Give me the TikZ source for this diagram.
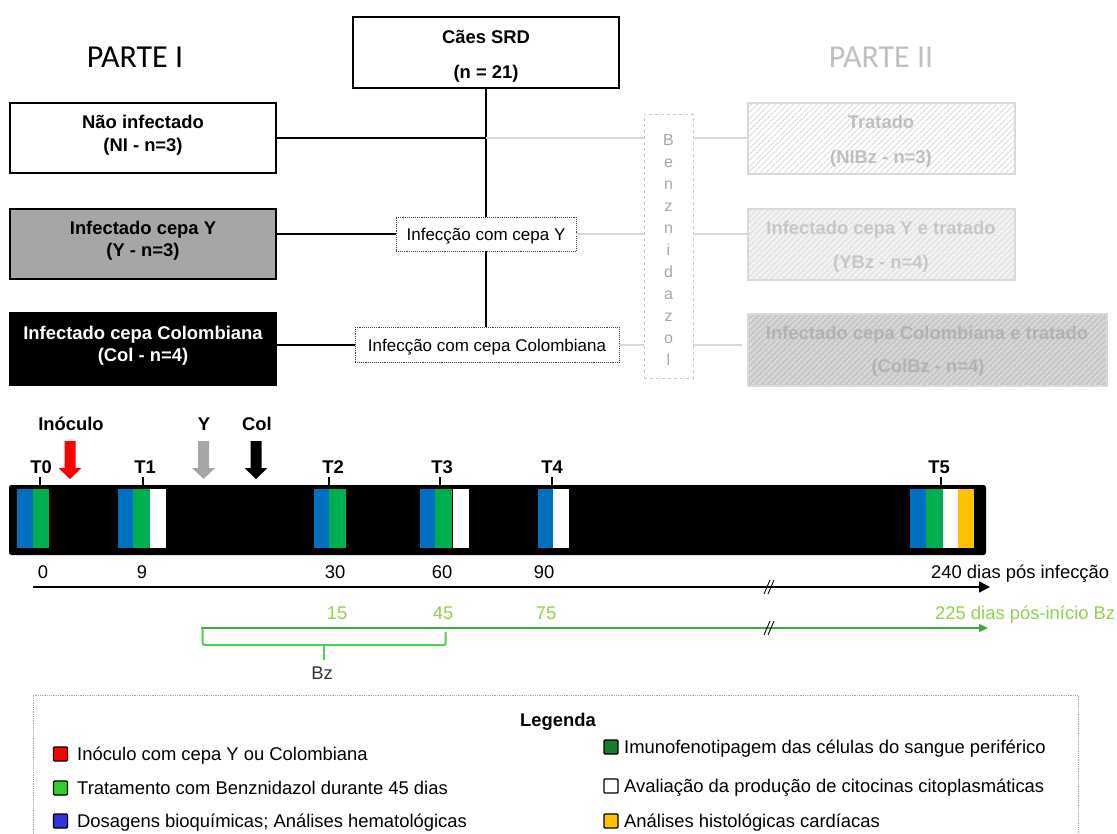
\documentclass[tikz,border=0pt]{standalone}
\usepackage{fontspec}
\setmainfont{Liberation Sans}
\newfontfamily\calib{Carlito}
\usetikzlibrary{arrows.meta,patterns.meta}
\definecolor{cblue}{HTML}{0070C0}
\definecolor{cgreen}{HTML}{00B050}
\definecolor{cyellow}{HTML}{FFC000}
\definecolor{lgray}{HTML}{D9D9D9}
\definecolor{midgray}{HTML}{A6A6A6}
\definecolor{lgreen}{HTML}{92D050}
\definecolor{bgreen}{HTML}{4FD04F}
\definecolor{axgreen}{HTML}{3DAA3D}
\definecolor{legred}{HTML}{FF0000}
\definecolor{leggreen}{HTML}{33CC33}
\definecolor{legblue}{HTML}{3333DD}
\definecolor{legdkgreen}{HTML}{1B7A2C}
\begin{document}
\begin{tikzpicture}[x=1pt,y=-1pt,
  bx/.style={draw=black, line width=2.8pt, inner sep=0pt, minimum width=266pt, minimum height=70pt},
  hbox/.style={draw=lgray, line width=2pt, inner sep=0pt, minimum height=71pt},
  dbox/.style={draw=black!75, densely dotted, line width=0.9pt, inner sep=0pt, minimum height=34pt},
  conn/.style={line width=1.4pt, black},
  gconn/.style={line width=1.5pt, lgray},
  tb/.style={font=\bfseries\fontsize{18.4}{22}\selectfont, inner sep=0pt, text height=13.2pt, text depth=0pt},
  tr/.style={font=\fontsize{18.4}{22}\selectfont, inner sep=0pt, text height=13.2pt, text depth=0pt},
  ts/.style={font=\fontsize{17}{20}\selectfont, inner sep=0pt, text height=12.2pt, text depth=0pt},
  bl/.style={font=\fontsize{16}{20}\selectfont, inner sep=0pt, text height=11.5pt, text depth=0pt, text=midgray},
  sq/.style={draw=black, line width=1.3pt, minimum size=14pt, inner sep=0pt, rounded corners=1pt},
  hatchA/.style={preaction={fill=white}, preaction={pattern={Lines[angle=45,distance=4pt,line width=1.2pt]}, pattern color=lgray}},
  hatchB/.style={preaction={fill=black!9}, preaction={pattern={Lines[angle=45,distance=4pt,line width=1.2pt]}, pattern color=white}},
  hatchC/.style={preaction={fill=black!21}, preaction={pattern={Lines[angle=45,distance=4pt,line width=1.2pt]}, pattern color=black!10}}
]
\useasboundingbox (0,0) rectangle (1117,834);
\begin{scope}
\clip (0,0) rectangle (1117,834);

% ---------- titles ----------
\node[inner sep=0pt, font=\calib\fontsize{32}{36}\selectfont, text height=20.6pt, text depth=0pt] (p1) at (135,57) {PARTE I};
\node[inner sep=0pt, font=\calib\fontsize{32}{36}\selectfont, text height=20.6pt, text depth=0pt, text=black!25] (p2) at (881,57) {PARTE II};

% ---------- part I boxes ----------
\node[bx, fill=white, minimum height=71pt] (srd) at (486,52.5) {};
\node[tb] (srd1) at (486,37) {Cães SRD};
\node[tb] (srd2) at (486,72) {(n = 21)};

\node[bx, fill=white] (ni) at (143,138) {};
\node[tb] (ni1) at (143,122) {Não infectado};
\node[tb] (ni2) at (143,145) {(NI - n=3)};

\node[bx, fill=midgray] (yc) at (143,244) {};
\node[tb] (yc1) at (143,228) {Infectado cepa Y};
\node[tb] (yc2) at (143,250) {(Y - n=3)};

\node[bx, fill=black, minimum height=72pt] (col) at (143,349) {};
\node[tb, text=white] (col1) at (143,333) {Infectado cepa Colombiana};
\node[tb, text=white] (col2) at (143,355) {(Col - n=4)};

\node[dbox, minimum width=180pt, fill=white] (infY) at (486,234) {};
\node[ts] (infYt) at (486,234) {Infecção com cepa Y};
\node[dbox, minimum width=264pt, minimum height=35pt, fill=white] (infC) at (487,345) {};
\node[ts] (infCt) at (487,345) {Infecção com cepa Colombiana};

% ---------- Benznidazol column ----------
\node[draw=black!22, dashed, line width=0.9pt, minimum width=49pt, minimum height=264pt, inner sep=0pt] (benz) at (668.5,246) {};
\foreach \c [count=\i] in {B,e,n,z,n,i,d,a,z,o,l}{
  \node[bl] (bz\i) at (668.5,{140+22*(\i-1)}) {\c};
}

% ---------- part II boxes ----------
\node[hbox, hatchA, minimum width=267pt] (trat) at (881.5,138.5) {};
\node[tb, text=black!25] (trat1) at (881,122) {Tratado};
\node[tb, text=black!25] (trat2) at (881,157) {(NIBz - n=3)};

\node[hbox, hatchB, minimum width=267pt] (ybz) at (881.5,244.5) {};
\node[tb, text=black!22] (ybz1) at (881,228) {Infectado cepa Y e tratado};
\node[tb, text=black!22] (ybz2) at (881,262) {(YBz - n=4)};

\node[hbox, hatchC, minimum width=359pt, minimum height=72pt] (colbz) at (927.5,350) {};
\node[tb, text=black!30] (colbz1) at (927,333) {Infectado cepa Colombiana e tratado};
\node[tb, text=black!30] (colbz2) at (928,366) {(ColBz - n=4)};

% ---------- connectors ----------
\draw[conn] (srd.south) -- (srd.south |- infY.north);
\draw[conn] (infY.south) -- (infY.south |- infC.north);
\draw[conn] (ni.east) -- (ni.east -| srd.south);
\draw[gconn] (ni.east -| srd.south) -- (ni.east -| benz.west);
\draw[conn] (infY.west) -- (infY.west -| yc.east);
\draw[conn] (infC.west) -- (infC.west -| col.east);
\draw[gconn] (infY.east) -- (infY.east -| benz.west);
\draw[gconn] (infC.east) -- (infC.east -| benz.west);
\draw[gconn] (benz.east |- ni.east) -- (trat.west |- ni.east);
\draw[gconn] (benz.east |- infY.east) -- (ybz.west |- infY.east);
\coordinate (cend) at ([xshift=-5pt]colbz.west);
\draw[gconn] (benz.east |- infC.east) -- (cend |- infC.east);

% ---------- timeline ----------
\node[tb] (inoc) at (71,424) {Inóculo};
\node[tb] (ylab) at (204,424) {Y};
\node[tb] (clab) at (257,424) {Col};
\foreach \x/\c in {70/legred,203.6/midgray,256/black}{
  \fill[\c] (\x-5.5,441) -- (\x+5.5,441) -- (\x+5.5,468) -- (\x+11.5,468) -- (\x,479) -- (\x-11.5,468) -- (\x-5.5,468) -- cycle;
}

\node[fill=black, rounded corners=2.5pt, minimum width=977pt, minimum height=70pt, inner sep=0pt] (bar) at (497.5,520) {};

\foreach \tx/\kx/\t in {41/40/T0,145/143/T1,333/329/T2,442/440/T3,552/552/T4,939/941/T5}{
  \node[tb] (\t) at (\tx,467) {\t};
  \draw[line width=1.2pt] (\kx,477) -- (\kx,487);
}

% stripes
\foreach \a/\b/\c in {17/33/cblue,33/49/cgreen,
  118/133/cblue,133/150/cgreen,150/166/white,
  314/329/cblue,329/346/cgreen,
  420/435/cblue,435/452/cgreen,453/469/white,
  537.5/553/cblue,553/569/white,
  910/926/cblue,926/943/cgreen,943/958/white,958/974/cyellow}{
  \fill[\c] (\a,489) rectangle (\b,548);
}

% day numbers
\node[tr] (d0) at (43,572) {0};
\node[tr] (d9) at (142,572) {9};
\node[tr] (d30) at (335,572) {30};
\node[tr] (d60) at (442,572) {60};
\node[tr] (d90) at (544,572) {90};
\node[tr, anchor=west] (d240) at (931,572) {240 dias pós infecção};

\coordinate (ax0) at (33,587);
\coordinate (ax1) at (990,587);
\draw[line width=1.5pt, -{Triangle[length=11pt,width=11pt]}] (ax0) -- (ax1);
\draw[line width=0.9pt] (764,594) -- (770,580) (768,594) -- (774,580);

% Bz scale
\node[tr, text=lgreen] (g15) at (337,613) {15};
\node[tr, text=lgreen] (g45) at (443,613) {45};
\node[tr, text=lgreen] (g75) at (546,613) {75};
\node[tr, text=lgreen, anchor=west] (g225) at (935,613) {225 dias pós-início Bz};

\coordinate (gx0) at (201,628);
\coordinate (gx1) at (988,628);
\draw[line width=1.3pt, axgreen, -{Triangle[length=9pt,width=8pt]}] (gx0) -- (gx1);
\draw[line width=0.9pt] (764,635) -- (770,621) (768,635) -- (774,621);

\draw[bgreen, line width=2pt, rounded corners=2pt] (202.7,628) -- (202.7,645) -- (445.7,645) -- (445.7,632);
\draw[bgreen, line width=2pt] (324,645) -- (324,660);
\node[tr, text=black!80] (bzl) at (322,673) {Bz};

% ---------- legend ----------
\draw[black!35, densely dotted, line width=0.8pt] (33,850) -- (33,695) -- (1078,695) -- (1078,850);
\node[tb] (leg) at (558,720) {Legenda};

\node[sq, fill=legred] (s1) at (60.5,754) {};
\node[tr, anchor=west] (l1) at (77,754) {Inóculo com cepa Y ou Colombiana};
\node[sq, fill=leggreen] (s2) at (60.5,788) {};
\node[tr, anchor=west] (l2) at (77,788) {Tratamento com Benznidazol durante 45 dias};
\node[sq, fill=legblue] (s3) at (60.5,821) {};
\node[tr, anchor=west] (l3) at (77,821) {Dosagens bioquímicas; Análises hematológicas};

\node[sq, fill=legdkgreen] (s4) at (611,747) {};
\node[tr, anchor=west] (l4) at (624,747) {Imunofenotipagem das células do sangue periférico};
\node[sq, fill=white] (s5) at (611,786) {};
\node[tr, anchor=west] (l5) at (624,786) {Avaliação da produção de citocinas citoplasmáticas};
\node[sq, fill=cyellow] (s6) at (611,821) {};
\node[tr, anchor=west] (l6) at (624,821) {Análises histológicas cardíacas};
\end{scope}
\end{tikzpicture}
\end{document}
